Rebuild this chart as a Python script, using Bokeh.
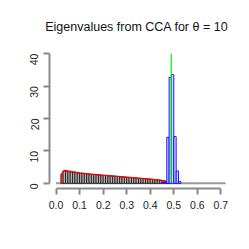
from bokeh.plotting import figure
from bokeh.models import Range1d, FixedTicker
from bokeh.embed import file_html
from bokeh.resources import INLINE
import math

# Grey histogram (bins of width 0.01, starting at 0.02)
gray_edges = [round(0.02 + 0.01 * i, 2) for i in range(47)]
gray_heights = [2.9, 3.8, 3.7, 3.6, 3.5, 3.4, 3.3, 3.2, 3.1, 3.0,
                2.95, 2.9, 2.8, 2.75, 2.7, 2.6, 2.55, 2.5, 2.45, 2.4,
                2.3, 2.25, 2.2, 2.15, 2.1, 2.0, 1.95, 1.9, 1.85, 1.8,
                1.75, 1.7, 1.6, 1.55, 1.5, 1.45, 1.4, 1.3, 1.25, 1.2,
                1.1, 1.05, 0.95, 0.85, 0.7, 0.4]

# Theoretical density (red)
curve_x = [0.024, 0.025, 0.03, 0.035, 0.04, 0.05, 0.07, 0.1, 0.15, 0.2,
           0.25, 0.3, 0.35, 0.4, 0.44, 0.46, 0.47, 0.475, 0.48]
curve_y = [0.0, 3.0, 3.7, 3.95, 4.0, 3.85, 3.6, 3.25, 2.85, 2.5,
           2.2, 1.9, 1.6, 1.3, 1.0, 0.75, 0.55, 0.3, 0.0]

# Blue histogram
blue_edges = [0.45, 0.46, 0.47, 0.48, 0.49, 0.50, 0.51, 0.52, 0.53]
blue_heights = [0.3, 0.3, 14.2, 32.7, 33.5, 14.4, 3.8, 0.5]

# Green reference line
green_x = [0.489, 0.489]
green_y = [0.0, 40.0]

# Zero baseline of empty bins
baseline_x = [0.0, 0.72]
baseline_y = [0.0, 0.0]

x_ticks = [0.0, 0.1, 0.2, 0.3, 0.4, 0.5, 0.6, 0.7]
y_ticks = [0, 10, 20, 30, 40]

p = figure(width=249, height=249, output_backend="svg", toolbar_location=None,
           x_range=Range1d(-0.028, 0.728), y_range=Range1d(-1.6, 41.6),
           min_border_left=49, min_border_right=22, min_border_top=48,
           min_border_bottom=61)
p.outline_line_color = None
p.grid.visible = False
p.background_fill_color = "white"
p.border_fill_color = "white"

p.title.text = "Eigenvalues from CCA for  \u03b8 = 10"
p.title.align = "center"
p.title.text_font = "Liberation Sans"
p.title.text_font_size = "12.5px"
p.title.text_font_style = "normal"
p.title.text_color = "#111111"
p.title.standoff = 30

p.line(baseline_x, baseline_y, line_color="#9a9a9a", line_width=2)

p.quad(left=gray_edges[:-1], right=gray_edges[1:], bottom=0, top=gray_heights,
       fill_color="#b4b4b4", line_color="black", line_width=0.7)

p.line(curve_x, curve_y, line_color="red", line_width=1.3)

p.quad(left=blue_edges[:-1], right=blue_edges[1:], bottom=0, top=blue_heights,
       fill_color="#d4d4ff", fill_alpha=1.0, line_color="blue", line_width=0.9)

p.line(green_x, green_y, line_color="#00ee00", line_width=1.2)

for ax in (p.xaxis[0], p.yaxis[0]):
    ax.axis_line_color = "#8a8a8a"
    ax.axis_line_width = 2
    ax.major_tick_line_color = "#8a8a8a"
    ax.major_tick_line_width = 2
    ax.major_tick_out = 6
    ax.major_tick_in = 0
    ax.minor_tick_line_color = None
    ax.major_label_text_font = "Liberation Sans"
    ax.major_label_text_font_size = "10.5px"
    ax.major_label_text_color = "#222222"

p.xaxis.ticker = FixedTicker(ticks=x_ticks)
p.yaxis.ticker = FixedTicker(ticks=y_ticks)
p.xaxis.bounds = (x_ticks[0], x_ticks[-1])
p.yaxis.bounds = (y_ticks[0], y_ticks[-1])
p.xaxis.major_label_overrides = {t: f"{t:.1f}" for t in x_ticks}
p.yaxis.major_label_orientation = math.pi / 2
p.xaxis.major_label_standoff = 6
p.yaxis.major_label_standoff = 9

open("out.html", "w").write(file_html(p, INLINE))
